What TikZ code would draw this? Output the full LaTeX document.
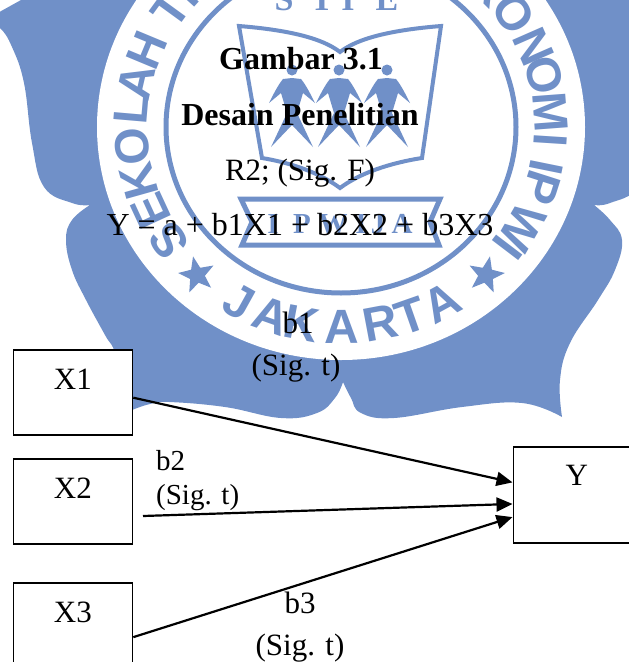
\documentclass[tikz,border=0pt]{standalone}
\usepackage{fontspec}
\setmainfont{Liberation Serif}
\newfontfamily\logofont{Liberation Sans}
\usepackage{xcolor}
\usetikzlibrary{arrows.meta, shapes.geometric}
\definecolor{logoblue}{HTML}{7090C8}

\begin{document}
\begin{tikzpicture}[
    x=1pt, y=-1pt,
    every node/.style={font=\fontsize{31}{33}\selectfont, inner sep=0pt},
    label/.style={anchor=base},
    boldlabel/.style={anchor=base, font=\fontsize{32}{34}\selectfont\bfseries},
    varbox/.style={rectangle, draw=black, fill=white, line width=1.8pt, anchor=north west, minimum width=119pt, text height=40pt, text depth=45pt, align=center},
    link/.style={-{Triangle[length=16pt, width=14pt]}, line width=2.2pt},
    ringletter/.style={font=\fontsize{48}{48}\logofont\bfseries, text=logoblue},
    logoletter/.style={font=\fontsize{29}{29}\selectfont\bfseries, text=logoblue, anchor=base},
    logoline/.style={draw=logoblue, line width=4pt, line join=miter}
]
\useasboundingbox (0,0) rectangle (629,662);

% Badge
\fill[logoblue] (30,-5) -- (-15,20)
    -- plot[smooth, tension=.7] coordinates {(-15,20) (0,28) (12,47) (24,83) (32,143) (44,187) (72,203) (90,205)}
    -- plot[smooth, tension=.7] coordinates {(90,205) (72,220) (66,240) (72,270) (86,300) (105,335) (116,355) (132,410)}
    -- plot[smooth, tension=.7] coordinates {(132,410) (150,404) (169,402) (225,407) (281,418) (317,413) (335,398) (343,382)}
    -- plot[smooth, tension=.7] coordinates {(343,382) (351,398) (361,413) (394,418) (462,407) (522,403) (562,417)}
    -- plot[smooth, tension=.7] coordinates {(562,417) (560,380) (570,343) (598,300) (615,270) (622,240) (610,220) (594,205)}
    -- plot[smooth, tension=.7] coordinates {(594,205) (610,203) (638,187) (650,143) (658,83) (670,47) (682,28) (697,20)}
    -- (652,-5) -- cycle;
\fill[white] (341,127) ellipse [x radius=244, y radius=233];

% Ring letters
\foreach \ch/\t [count=\n] in {S/145.3, E/155.2, K/164.3, O/174.3, L/184.9, A/193, H/202.6, T/216, I/222, K/315, O/325.5, N/336.3, O/345, M/355.7, I/3.7, I/11.5, P/17.8, W/30, I/37.3}
    \node[ringletter, rotate={-\t-90}] (top\n) at ({341+210*cos(\t)},{127+200*sin(\t)}) {\ch};
\foreach \ch/\t [count=\n] in {J/119, A/109.5, K/100.8, A/89.7, R/79.3, T/70.7, A/61.4}
    \node[ringletter, rotate={90-\t}] (low\n) at ({341+210*cos(\t)},{127+200*sin(\t)}) {\ch};
\node[star, star points=5, star point ratio=2.4, fill=logoblue, minimum size=38pt, rotate=12] (starl) at (197,275) {};
\node[star, star points=5, star point ratio=2.4, fill=logoblue, minimum size=38pt, rotate=-12] (starr) at (486,275) {};

% Inner emblem
\draw[logoblue, line width=5pt] (341,127) ellipse [x radius=175, y radius=166];
\draw[logoline] (239,26) .. controls (288,30) and (322,38) .. (340,52) .. controls (358,38) and (392,30) .. (441,26) -- (422,158) .. controls (390,163) and (360,173) .. (340,188) .. controls (320,173) and (292,163) .. (262,158) -- cycle;
\foreach \px in {292,339,387} {
    \fill[logoblue] (\px,70) circle (5.5);
    \fill[logoblue, shift={(\px,0)}] (0,78) -- (9,79) .. controls (14,85) and (19,95) .. (23,103) -- (11,93) -- (5,113) -- (21,147) -- (0,125) -- (-21,147) -- (-5,113) -- (-11,93) -- (-23,103) .. controls (-19,95) and (-14,85) .. (-9,79) -- cycle;
}
\draw[logoblue, line width=5pt, line join=miter] (241,199) -- (440,199) -- (430,222) -- (439,245) -- (242,245) -- (252,222) -- cycle;
\foreach \ch/\lx [count=\n] in {I/273, P/302, W/333, I/361, J/378, A/402}
    \node[logoletter] (band\n) at (\lx,233) {\ch};
\foreach \ch/\lx [count=\n] in {S/284, T/322, I/348, E/387}
    \node[logoletter, font=\fontsize{34}{34}\selectfont\bfseries] (stie\n) at (\lx,10) {\ch};

% Text
\node[label] (cut) at (105,-19) {g};
\node[boldlabel] (title) at (301,69) {Gambar 3.1};
\node[boldlabel] (subtitle) at (300,125) {Desain Penelitian};
\node[label] (rsq) at (300,180) {R2; (Sig. F)};
\node[label, font=\fontsize{32}{34}\selectfont] (eqn) at (300,235) {Y = a + b1X1 + b2X2 + b3X3};

% Boxes
\node[varbox] (xone) at (12.5,349) {X1};
\node[varbox] (xtwo) at (12.5,458) {X2};
\node[varbox] (xthree) at (12.5,582) {X3};
\node[varbox, minimum width=127pt, text depth=57pt, text height=39pt] (yvar) at (512.5,446) {Y};
\coordinate (xtwoend) at (143,516);

% Arrows
\draw[link] (xone.-5.3) -- (yvar.169.3);
\draw[link] (xtwoend) -- (yvar.188);
\draw[link] (xthree.-11.4) -- (yvar.199);

% Path labels
\node[label] (bone) at (298,333) {b1};
\node[label] (sigone) at (296,375) {(Sig. t)};
\node[label, anchor=base west, font=\fontsize{29}{31}\selectfont] (btwo) at (156,470) {b2};
\node[label, anchor=base west, font=\fontsize{29}{31}\selectfont] (sigtwo) at (156,504) {(Sig. t)};
\node[label] (bthree) at (300,613) {b3};
\node[label] (sigthree) at (300,655) {(Sig. t)};

\end{tikzpicture}
\end{document}
